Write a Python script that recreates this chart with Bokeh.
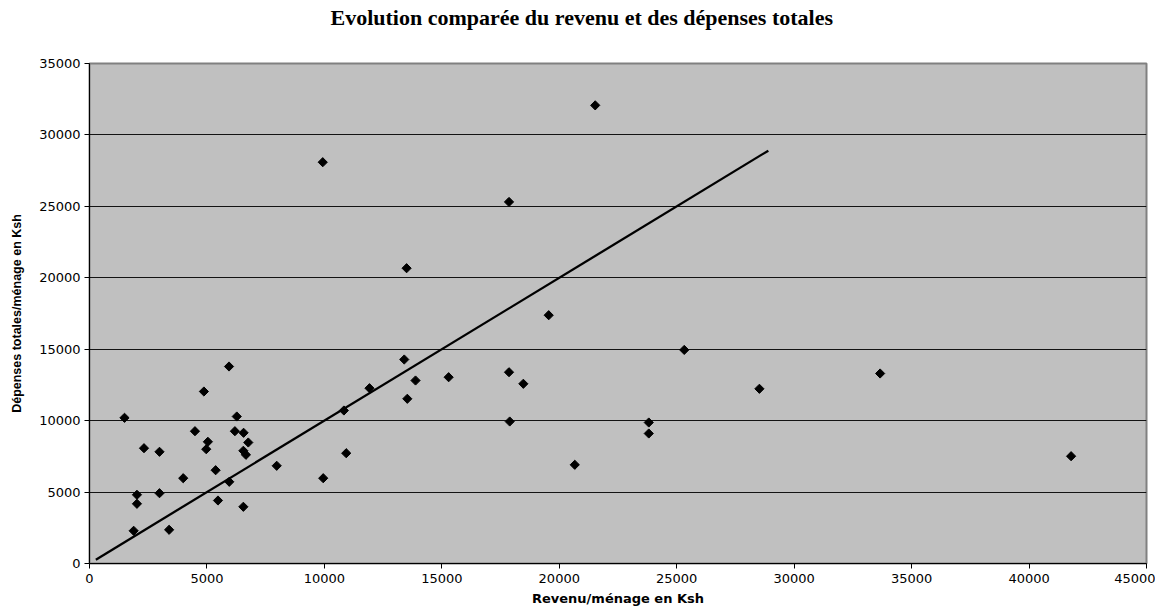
from bokeh.plotting import figure
from bokeh.models import Range1d, FixedTicker, Title
from bokeh.embed import file_html
from bokeh.resources import INLINE

revenu = [1490, 4870, 6270, 4490, 6190, 6560, 5040, 6760, 2320, 4970,
          2980, 6550, 6660, 5370, 7970, 3990, 5950, 9950, 2020, 2980,
          2020, 5470, 6550, 1880, 3390, 10830, 10930, 11920, 5940, 9930,
          21530, 17860, 13500, 19550, 25320, 13400, 13880, 15290, 17860, 18470,
          28520, 13530, 17890, 20660, 23810, 23810, 33660, 41790]
depenses = [10200, 12040, 10290, 9260, 9260, 9150, 8520, 8470, 8070, 8000,
            7820, 7890, 7610, 6530, 6840, 5970, 5720, 5970, 4810, 4920,
            4180, 4410, 3970, 2290, 2360, 10710, 7720, 12270, 13790, 28090,
            32070, 25310, 20670, 17380, 14950, 14280, 12810, 13040, 13390, 12580,
            12230, 11530, 9940, 6910, 9870, 9100, 13300, 7510]
ligne_x = [270, 28900]
ligne_y = [270, 28900]
x_ticks = [0, 5000, 10000, 15000, 20000, 25000, 30000, 35000, 40000, 45000]
y_ticks = [0, 5000, 10000, 15000, 20000, 25000, 30000, 35000]
titre = "Evolution comparée du revenu et des dépenses totales"

p = figure(width=1155, height=608, output_backend="svg", toolbar_location=None,
           x_range=Range1d(0, 45000), y_range=Range1d(0, 35000),
           min_border_left=89, min_border_right=9, min_border_top=63, min_border_bottom=45)
p.title = None

# empty spacer nearest to the frame, then the real title above it
p.add_layout(Title(text=" ", text_font_size="10px", standoff=21), "above")
p.add_layout(Title(text=titre, align="left", offset=241, vertical_align="bottom",
                   text_font="Liberation Serif", text_font_style="bold",
                   text_font_size="22px", text_color="black", standoff=0), "above")

p.background_fill_color = "#C0C0C0"
p.border_fill_color = "white"
p.outline_line_color = "#808080"
p.outline_line_width = 2

p.xgrid.visible = False
p.ygrid.grid_line_color = "black"
p.ygrid.grid_line_width = 1
p.ygrid.grid_line_alpha = 0.9

for ax in (p.xaxis[0], p.yaxis[0]):
    ax.axis_line_color = "black"
    ax.major_tick_line_color = "black"
    ax.major_tick_in = 0
    ax.major_tick_out = 5
    ax.minor_tick_line_color = None
    ax.major_label_text_font = "DejaVu Sans"
    ax.major_label_text_font_size = "13px"
    ax.major_label_text_color = "black"
    ax.axis_label_text_font_style = "bold"
    ax.axis_label_text_color = "black"

p.xaxis.axis_label_text_font = "DejaVu Sans"
p.xaxis.axis_label_text_font_size = "13px"
p.yaxis.axis_label_text_font = "Liberation Sans"
p.yaxis.axis_label_text_font_size = "12.5px"

p.xaxis.ticker = FixedTicker(ticks=x_ticks)
p.yaxis.ticker = FixedTicker(ticks=y_ticks)
p.xaxis.axis_label = "Revenu/ménage en Ksh"
p.yaxis.axis_label = "Dépenses totales/ménage en Ksh"
p.xaxis.major_label_standoff = 5
p.yaxis.major_label_standoff = 4
p.xaxis.axis_label_standoff = 5
p.yaxis.axis_label_standoff = 12

p.line(ligne_x, ligne_y, line_color="black", line_width=2.3)
p.scatter(revenu, depenses, marker="square", angle=0.785398, size=6.5,
          fill_color="black", line_color="black")

open("out.html", "w").write(file_html(p, INLINE))
